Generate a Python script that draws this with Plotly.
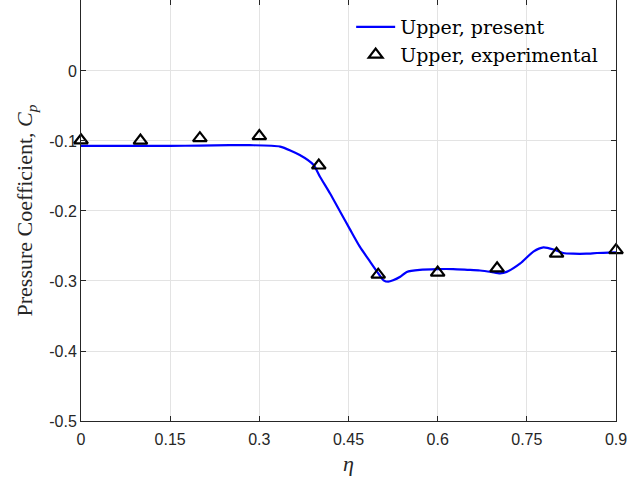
import plotly.graph_objects as go

# Computed upper-surface pressure distribution along the span
eta_present = [0.0, 0.05, 0.10, 0.15, 0.20, 0.25, 0.284, 0.335, 0.368, 0.391,
               0.402, 0.419, 0.436, 0.453, 0.469, 0.486, 0.500, 0.509, 0.517,
               0.525, 0.537, 0.548, 0.570, 0.600, 0.626, 0.650, 0.671, 0.690,
               0.705, 0.716, 0.739, 0.761, 0.778, 0.795, 0.811, 0.828, 0.850,
               0.868, 0.900]
cp_present = [-0.107, -0.107, -0.107, -0.107, -0.1065, -0.106, -0.106, -0.108,
              -0.120, -0.134, -0.151, -0.175, -0.201, -0.227, -0.251, -0.272,
              -0.289, -0.299, -0.301, -0.299, -0.294, -0.287, -0.284, -0.283,
              -0.283, -0.284, -0.285, -0.287, -0.289, -0.287, -0.275, -0.258,
              -0.252, -0.255, -0.260, -0.261, -0.261, -0.260, -0.259]

# Wind-tunnel measurements
eta_exp = [0.0, 0.1, 0.2, 0.3, 0.4, 0.5, 0.6, 0.7, 0.8, 0.9]
cp_exp = [-0.099, -0.0995, -0.096, -0.093, -0.135, -0.291, -0.288, -0.282,
          -0.261, -0.256]

x_ticks = [0, 0.15, 0.3, 0.45, 0.6, 0.75, 0.9]
x_tick_text = ["0", "0.15", "0.3", "0.45", "0.6", "0.75", "0.9"]
y_ticks = [0, -0.1, -0.2, -0.3, -0.4, -0.5]
y_tick_text = ["0", "-0.1", "-0.2", "-0.3", "-0.4", "-0.5"]

serif = "Liberation Serif, DejaVu Serif, serif"
wide_serif = "DejaVu Serif, serif"
sans = "Liberation Sans, Arial, sans-serif"
axis_color = "#262626"

fig = go.Figure()
fig.add_trace(go.Scatter(
    x=eta_present, y=cp_present, mode="lines", name="Upper, present",
    line=dict(color="#0000ff", width=2.2, shape="spline", smoothing=0.6),
))
fig.add_trace(go.Scatter(
    x=eta_exp, y=cp_exp, mode="markers", name="Upper, experimental",
    marker=dict(symbol="triangle-up-open", size=12, color="black",
                line=dict(color="black", width=2.2)),
    cliponaxis=False,
))

axis_common = dict(
    showline=True, linecolor=axis_color, linewidth=1, mirror="ticks",
    ticks="inside", ticklen=5, tickcolor=axis_color,
    showgrid=True, gridcolor="#e3e3e3", gridwidth=1, zeroline=False,
    tickfont=dict(family=sans, size=16, color=axis_color),
    ticklabeloverflow="allow",
)

fig.update_xaxes(
    range=[0, 0.9], tickvals=x_ticks, ticktext=x_tick_text,
    ticklabelstandoff=4,
    title=dict(text="<i>η</i>", font=dict(family=serif, size=22, color=axis_color),
               standoff=8),
    **axis_common,
)
fig.update_yaxes(
    range=[-0.5, 0.1014], tickvals=y_ticks, ticktext=y_tick_text,
    title=dict(text="Pressure Coefficient, <i>C<sub>p</sub></i>",
               font=dict(family=serif, size=22, color=axis_color), standoff=10),
    **axis_common,
)

# White panel behind the legend that hides the grid in the top-right corner
fig.add_shape(
    type="rect", xref="paper", yref="paper",
    x0=0.508, x1=1.0, y0=0.833, y1=1.0,
    fillcolor="white", line=dict(width=0), layer="between",
)

fig.update_layout(
    width=628, height=480,
    margin=dict(l=81, r=12, t=0, b=59),
    plot_bgcolor="white", paper_bgcolor="white",
    legend=dict(
        x=0.976, y=0.981, xanchor="right", yanchor="top",
        bgcolor="rgba(255,255,255,0)", borderwidth=0,
        font=dict(family=wide_serif, size=19, color="black"),
        tracegroupgap=0, itemwidth=39,
    ),
)

fig.write_html("out.html")
